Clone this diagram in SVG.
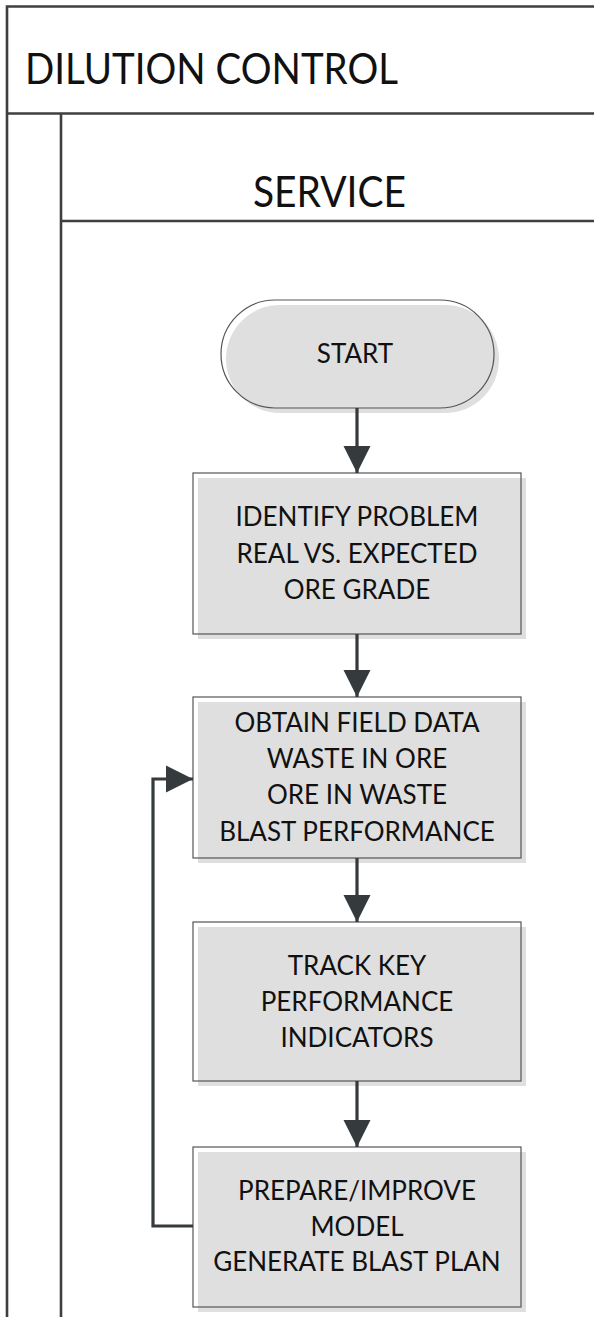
<svg xmlns="http://www.w3.org/2000/svg" width="594" height="1317" viewBox="0 0 594 1317">
  <style>
    .frame { stroke: #3d3f41; stroke-width: 2.6; fill: none; }
    .shade { fill: #dfdfdf; }
    .outline { fill: none; stroke: #555555; stroke-width: 1.2; }
    .label { font-family: Lato, "Open Sans", "Liberation Sans", sans-serif; font-size: 26px; fill: #111111; text-anchor: middle; }
    .title { font-family: Lato, "Open Sans", "Liberation Sans", sans-serif; font-size: 43px; fill: #111111; }
    .flow { stroke: #353a3d; stroke-width: 3.2; fill: none; }
  </style>
  <defs>
    <marker id="head" viewBox="0 0 10 10" refX="10" refY="5" markerWidth="8.5" markerHeight="8.5" markerUnits="strokeWidth" orient="auto">
      <path d="M0,0 L10,5 L0,10 Z" fill="#353a3d"/>
    </marker>
  </defs>

  <rect width="594" height="1317" fill="#ffffff"/>

  <!-- pool and lane frame -->
  <g id="pool">
    <path class="frame" d="M594,6.5 H7 V1317"/>
    <path class="frame" d="M7,113.5 H594"/>
    <text class="title" x="25" y="84" textLength="373" lengthAdjust="spacingAndGlyphs">DILUTION CONTROL</text>
  </g>
  <g id="lane-service">
    <path class="frame" d="M61,113.5 V1317"/>
    <path class="frame" d="M61,221 H594"/>
    <text class="title" x="253" y="207" textLength="153" lengthAdjust="spacingAndGlyphs">SERVICE</text>
  </g>

  <!-- process steps -->
  <g id="start">
    <rect class="shade" x="226" y="305" width="273" height="108" rx="54"/>
    <rect class="outline" x="221" y="300" width="273" height="108" rx="54"/>
    <text class="label" x="355" y="363">START</text>
  </g>

  <g id="identify-problem">
    <rect class="shade" x="198" y="478" width="328" height="161"/>
    <rect class="outline" x="193" y="473" width="328" height="161"/>
    <text class="label" x="357" y="526">IDENTIFY PROBLEM<tspan x="357" dy="36.5">REAL VS. EXPECTED</tspan><tspan x="357" dy="36.5">ORE GRADE</tspan></text>
  </g>

  <g id="obtain-field-data">
    <rect class="shade" x="198" y="702" width="328" height="161"/>
    <rect class="outline" x="193" y="697" width="328" height="161"/>
    <text class="label" x="357" y="731.5">OBTAIN FIELD DATA<tspan x="357" dy="36.4">WASTE IN ORE</tspan><tspan x="357" dy="36.4">ORE IN WASTE</tspan><tspan x="357" dy="36.4">BLAST PERFORMANCE</tspan></text>
  </g>

  <g id="track-kpi">
    <rect class="shade" x="198" y="927" width="328" height="159"/>
    <rect class="outline" x="193" y="922" width="328" height="159"/>
    <text class="label" x="357" y="975">TRACK KEY<tspan x="357" dy="36">PERFORMANCE</tspan><tspan x="357" dy="36">INDICATORS</tspan></text>
  </g>

  <g id="prepare-model">
    <rect class="shade" x="198" y="1152" width="328" height="160"/>
    <rect class="outline" x="193" y="1147" width="328" height="160"/>
    <text class="label" x="357" y="1200">PREPARE/IMPROVE<tspan x="357" dy="35.5">MODEL</tspan><tspan x="357" dy="35.5">GENERATE BLAST PLAN</tspan></text>
  </g>

  <!-- connectors -->
  <g id="connectors">
    <path class="flow" d="M357,408 V473" marker-end="url(#head)"/>
    <path class="flow" d="M357,634 V697" marker-end="url(#head)"/>
    <path class="flow" d="M357,858 V922" marker-end="url(#head)"/>
    <path class="flow" d="M357,1081 V1147" marker-end="url(#head)"/>
    <path class="flow" d="M193,1226 H153 V779 H193" marker-end="url(#head)"/>
  </g>
</svg>
